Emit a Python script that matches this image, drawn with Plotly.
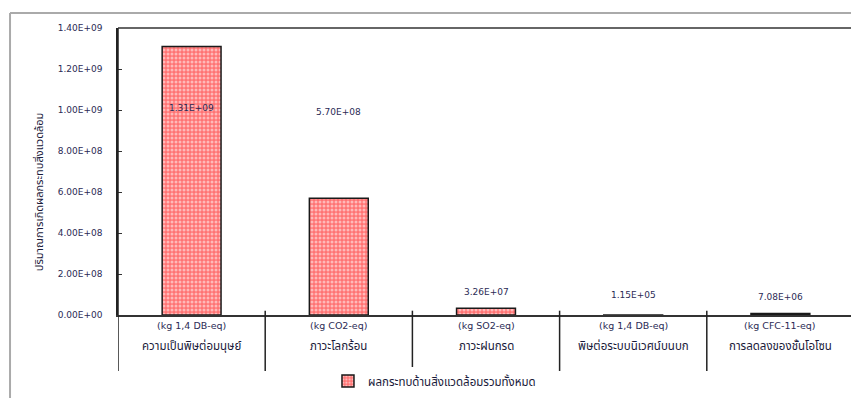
import plotly.graph_objects as go

categories = ["ความเป็นพิษต่อมนุษย์", "ภาวะโลกร้อน", "ภาวะฝนกรด",
              "พิษต่อระบบนิเวศน์บนบก", "การลดลงของชั้นโอโซน"]
units = ["(kg 1,4 DB-eq)", "(kg CO2-eq)", "(kg SO2-eq)", "(kg 1,4 DB-eq)", "(kg CFC-11-eq)"]
values = [1.31e9, 5.70e8, 3.26e7, 1.15e5, 7.08e6]
value_labels = ["1.31E+09", "5.70E+08", "3.26E+07", "1.15E+05", "7.08E+06"]
tick_vals = [0, 2e8, 4e8, 6e8, 8e8, 1.0e9, 1.2e9, 1.4e9]
tick_text = ["0.00E+00", "2.00E+08", "4.00E+08", "6.00E+08", "8.00E+08",
             "1.00E+09", "1.20E+09", "1.40E+09"]
series_name = "ผลกระทบด้านสิ่งแวดล้อมรวมทั้งหมด"
y_title = "ปริมาณการเกิดผลกระทบสิ่งแวดล้อม"

# placement of the value labels (layout only)
label_y = [1.01e9, 9.9e8, 1.12e8, 9.8e7, 8.8e7]

FONT = "'DejaVu Sans', 'Noto Sans Thai', 'Noto Sans', sans-serif"
TXT = "#2b2b55"

x = list(range(len(categories)))

fig = go.Figure()
fig.add_trace(go.Bar(
    x=x, y=values, name=series_name, width=0.4,
    marker=dict(color="#ff8080",
                line=dict(color="#1a1a1a", width=1.5),
                pattern=dict(shape=".", fgcolor="#ffffff", bgcolor="#ff7373",
                             size=4, solidity=0.45)),
    showlegend=True,
))

ann = []
for i, (lab, ly) in enumerate(zip(value_labels, label_y)):
    ann.append(dict(x=i, y=ly, xref="x", yref="y", text=lab, showarrow=False,
                    font=dict(size=9, color=TXT, family=FONT)))
for i, (u, c) in enumerate(zip(units, categories)):
    ann.append(dict(x=i, y=-0.063, xref="x", yref="paper", text=u, showarrow=False,
                    font=dict(size=9.5, color=TXT, family=FONT)))
    ann.append(dict(x=i, y=-0.139, xref="x", yref="paper", text=c, showarrow=False,
                    font=dict(size=11.5, color="#1a1a3a", family=FONT)))
ann.append(dict(x=-0.12, y=0.43, xref="paper", yref="paper", text=y_title,
                textangle=-90, showarrow=False,
                font=dict(size=11, color="#1a1a3a", family=FONT)))

shapes = []
for b in [i - 0.5 for i in range(len(categories))]:
    shapes.append(dict(type="line", xref="x", yref="paper", x0=b, x1=b,
                       y0=0.015 if b > -0.5 else 1.0, y1=-0.195,
                       line=dict(color="#222222", width=1.5)))
# top border of the plot area
shapes.append(dict(type="line", xref="paper", yref="paper", x0=0, x1=1.0,
                   y0=1.0, y1=1.0, line=dict(color="#333333", width=1.5)))
# outer frame (gray)
shapes.append(dict(type="line", xref="paper", yref="paper", x0=-0.1467, x1=-0.1467,
                   y0=1.052, y1=-0.32, line=dict(color="#aaaaaa", width=2)))
shapes.append(dict(type="line", xref="paper", yref="paper", x0=-0.1467, x1=1.0,
                   y0=1.052, y1=1.052, line=dict(color="#aaaaaa", width=2)))

fig.update_layout(
    width=854, height=398,
    margin=dict(l=118, r=0, t=28, b=83, autoexpand=False),
    paper_bgcolor="white", plot_bgcolor="white",
    bargap=0.6,
    xaxis=dict(range=[-0.5, 4.5], showticklabels=False, ticks="",
               showgrid=False, zeroline=False, showline=True,
               linecolor="#333333", linewidth=1.5, mirror=False),
    yaxis=dict(range=[0, 1.4e9], tickvals=tick_vals, ticktext=tick_text,
               ticks="inside", ticklen=4, tickcolor="#333333",
               ticklabelstandoff=12,
               showgrid=False, zeroline=False, showline=True,
               linecolor="#222222", linewidth=1.5,
               tickfont=dict(size=9, color=TXT, family=FONT)),
    annotations=ann, shapes=shapes,
    legend=dict(orientation="h", x=0.43, xanchor="center", y=-0.23, yanchor="middle",
                font=dict(size=11.5, color="#1a1a3a", family=FONT),
                itemwidth=30),
)

fig.write_html("out.html",
               config={"displayModeBar": False},
               post_script="document.body.style.margin='0';"
                           "document.body.style.overflow='hidden';"
                           "document.documentElement.style.overflow='hidden';")
